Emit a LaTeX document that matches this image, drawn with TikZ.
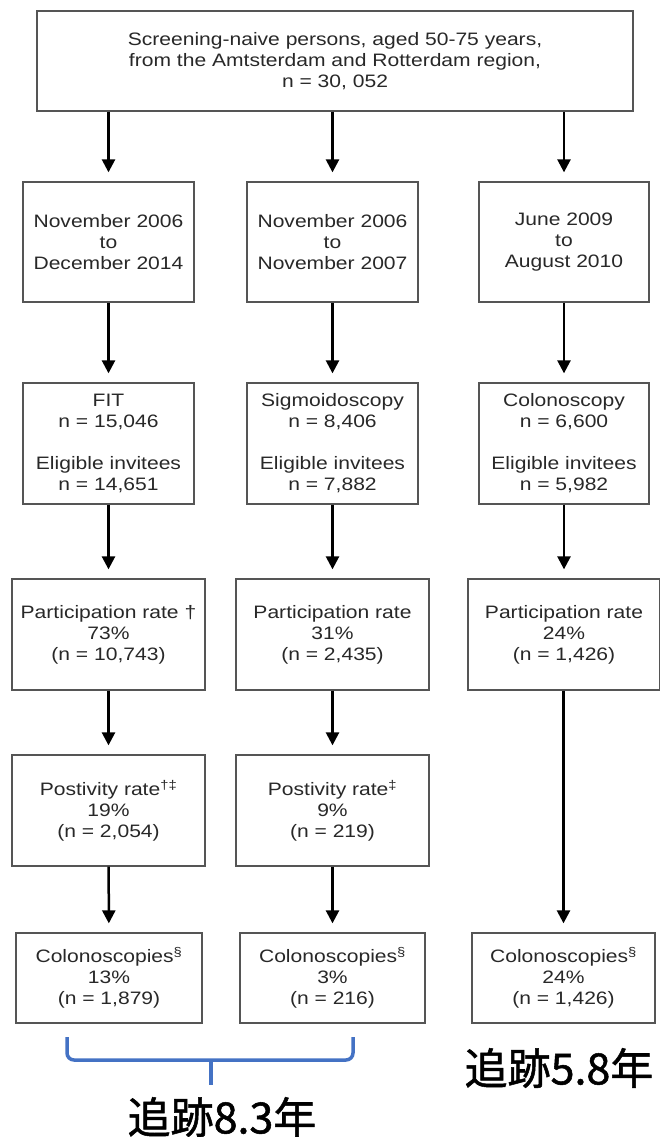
\documentclass[tikz,border=0pt]{standalone}
\usepackage{fontspec}
\setmainfont[FakeStretch=1.17]{Liberation Sans}
\newfontfamily\cjk[AutoFakeBold=1.2]{Noto Sans CJK JP}
\usetikzlibrary{arrows.meta}
\definecolor{bracecol}{RGB}{68,114,196}
\definecolor{txt}{RGB}{40,40,40}
\definecolor{frame}{RGB}{85,85,85}
\begin{document}
\begin{tikzpicture}[x=1pt,y=-1pt,
  box/.style={draw=frame, line width=1.3pt, fill=white, align=center, inner sep=0pt,
    text=txt, font=\fontsize{18}{21}\selectfont},
  arr/.style={line width=2.5pt, -{Triangle[length=13pt,width=13pt]}, shorten >=9pt},
  bracestyle/.style={draw=bracecol, line width=3.5pt},
  jp/.style={font=\cjk\bfseries\fontsize{43}{50}\selectfont, text=black, inner sep=0pt}]
\useasboundingbox (0,0) rectangle (659,1137);
% top
\node[box, minimum width=596pt, minimum height=100pt] (top) at (335,61)
  {Screening-naive persons, aged 50-75 years,\\from the Amtsterdam and Rotterdam region,\\n = 30, 052};
% dates
\node[box, minimum width=171pt, minimum height=120pt] (d1) at (108.5,242) {November 2006\\to\\December 2014};
\node[box, minimum width=171pt, minimum height=120pt] (d2) at (332.5,242) {November 2006\\to\\November 2007};
\node[box, minimum width=170pt, minimum height=120pt] (d3) at (564,242) {June 2009\\to\\August 2010};
% modality
\node[box, minimum width=171pt, minimum height=121pt] (m1) at (108.5,443.5) {FIT\\n = 15,046\\[21pt]Eligible invitees\\n = 14,651};
\node[box, minimum width=171pt, minimum height=121pt] (m2) at (332.5,443.5) {Sigmoidoscopy\\n = 8,406\\[21pt]Eligible invitees\\n = 7,882};
\node[box, minimum width=170pt, minimum height=121pt] (m3) at (564,443.5) {Colonoscopy\\n = 6,600\\[21pt]Eligible invitees\\n = 5,982};
% participation
\node[box, minimum width=193pt, minimum height=111pt] (p1) at (108.5,634.5) {Participation rate †\\73\%\\(n = 10,743)};
\node[box, minimum width=193pt, minimum height=111pt] (p2) at (332.5,634.5) {Participation rate\\31\%\\(n = 2,435)};
\node[box, minimum width=192pt, minimum height=111pt] (p3) at (564,634.5) {Participation rate\\24\%\\(n = 1,426)};
% positivity
\node[box, minimum width=193pt, minimum height=111pt] (q1) at (108.5,810.5) {Postivity rate\textsuperscript{†‡}\\19\%\\(n = 2,054)};
\node[box, minimum width=193pt, minimum height=111pt] (q2) at (332.5,810.5) {Postivity rate\textsuperscript{‡}\\9\%\\(n = 219)};
% colonoscopies
\node[box, minimum width=186pt, minimum height=90pt] (c1) at (109,978) {Colonoscopies\textsuperscript{§}\\13\%\\(n = 1,879)};
\node[box, minimum width=185pt, minimum height=90pt] (c2) at (332.5,978) {Colonoscopies\textsuperscript{§}\\3\%\\(n = 216)};
\node[box, minimum width=183pt, minimum height=90pt] (c3) at (563.5,978) {Colonoscopies\textsuperscript{§}\\24\%\\(n = 1,426)};
% arrows
\draw[arr] (top.south -| d1.north) -- (d1.north);
\draw[arr] (top.south -| d2.north) -- (d2.north);
\draw[arr] (top.south -| d3.north) -- (d3.north);
\draw[arr] (d1) -- (m1);
\draw[arr] (d2) -- (m2);
\draw[arr] (d3) -- (m3);
\draw[arr] (m1) -- (p1);
\draw[arr] (m2) -- (p2);
\draw[arr] (m3) -- (p3);
\draw[arr] (p1) -- (q1);
\draw[arr] (p2) -- (q2);
\draw[arr] (q1) -- (c1);
\draw[arr] (q2) -- (c2);
\draw[arr] (p3.south -| c3.north) -- (c3.north);
% brace
\coordinate (bl) at (67,1037);
\coordinate (br) at (353,1037);
\coordinate (bm) at (211,1085);
\draw[bracestyle, rounded corners=7pt] (bl) -- (67,1060) -- (353,1060) -- (br);
\draw[bracestyle] (bm |- 0,1060) -- (bm);
% follow-up labels
\node[jp] (f83) at (222,1117) {追跡8.3年};
\node[jp] (f58) at (559,1068) {追跡5.8年};
\end{tikzpicture}
\end{document}
